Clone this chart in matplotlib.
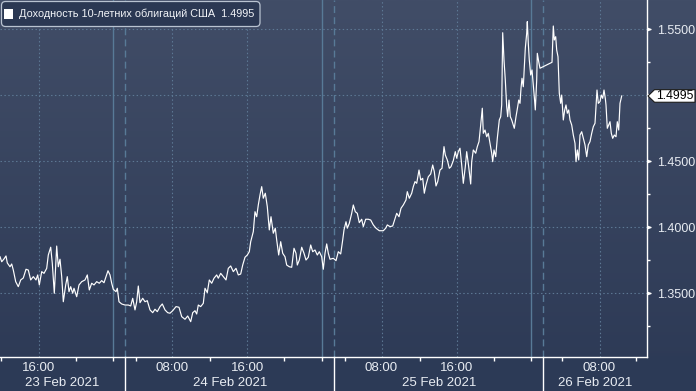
import matplotlib
matplotlib.use("Agg")
import matplotlib.pyplot as plt
import numpy as np
from matplotlib.patches import FancyBboxPatch, Polygon, Rectangle
from matplotlib.colors import LinearSegmentedColormap
from matplotlib.transforms import IdentityTransform, blended_transform_factory

plt.rcParams['font.family'] = ['Liberation Sans', 'DejaVu Sans']

# ---------------- data ----------------
series_name = "Доходность 10-летних облигаций США"
last_value = 1.4995

# chart position (session-time index) of each observation
pos = [
    0, 1.7, 4, 6, 7.3, 10, 11.7, 13.3, 15.7, 18.3, 20.7, 23.3, 26, 28.3, 30.7, 33.3, 36, 37.7, 39.3, 41.7,
    44, 46.7, 48.3, 50.7, 52.3, 54.3, 56.7, 58.3, 60, 61.7, 63.3, 65.7, 67.3, 69, 70.7, 72.7, 74, 76.7, 79, 81.7,
    85, 87.3, 89.3, 91.7, 94, 96.7, 99.3, 101.7, 104, 106, 108, 110, 111.7, 113.3, 116, 117.3, 119, 121.7, 125, 128.3,
    130.7, 132.7, 135, 136.7, 138.3, 140, 142.7, 145, 147.3, 150, 152.7, 155, 157.3, 160, 162.3, 165, 167.7, 170,
    172.7, 176, 179, 181.7, 185, 187.7, 190.7, 192.7, 195, 196.7, 198.3, 200.7, 203.3, 205, 207.3, 209.3, 211.7, 214,
    216.7, 218.3, 220.7, 223.3, 226, 228.3, 230.7, 233.3, 236, 238.3, 240.7, 242.7, 245, 247.3, 249.3, 250.7, 253.3,
    255, 256.7, 258.3, 260, 261.7, 263.3, 265.3, 267.3, 269.3, 271, 273.3, 275.3, 276.7, 278.7, 280.7, 282.7, 285,
    286.7, 289.3, 291.7, 294, 296, 297.3, 299.3, 301.7, 304, 306, 308.3, 310.7, 312.7, 315, 317.3, 319.3, 321.7,
    323.3, 325, 326.7, 328.3,
    330, 333.3, 336, 338.3, 340.7, 342.7, 344, 346, 347.3, 349.3, 351.7, 353.3, 355.3, 357.3, 359.3, 361.7, 363.3,
    365.7, 368.3, 370.7, 373.3, 376, 379.3, 383.3, 385.7, 387.3, 390, 392.7, 394, 396.7, 399, 401, 403.3, 406, 407.3,
    409.3, 411.7, 413.3, 415, 416.7, 419, 420.7, 422.7, 424.3, 426, 428.3, 430.7, 432.7, 434.3, 436, 437.7, 440, 442,
    444, 445.3, 447.3, 449.3, 451, 453.3, 455.3, 456.7, 458.3, 460, 461.7, 463.3, 465.3, 466.7, 468.7, 470.7,
    471.7, 473.3, 475.7, 477.3, 479, 480.7, 482.3, 483.3, 485, 486.7, 488.3, 490, 491.7, 492.7, 494, 495.7, 497.3,
    499.3, 500.7, 501.7, 502.7, 504, 505.3, 506.7, 507.7, 509, 510.3, 511.7, 513.3, 514.3, 516, 517.7, 518.7, 520,
    521, 522, 523.3, 524.3, 525.3, 526.7, 527.3, 528.3, 529.3, 530.7, 532, 533.3, 534.3, 535.3, 536.7, 537.3, 538.7,
    540, 552, 553.3, 554.3, 555.7, 556.7, 558, 559.3, 560.7, 561.7, 563.3, 564.7, 566, 567.3, 568.7, 570, 571.7,
    573.3, 575, 576, 577.3, 578.7, 580, 581.7, 583.3, 585, 586.7, 588.3, 590, 591.7, 593.3, 595, 596, 597, 598.3,
    600, 601.3, 602.7, 604, 605.3, 606, 607.3, 608.7, 610, 611.3, 612.7, 614.3, 616, 617.3, 618.7, 620, 621.7,
]

yields = [
    1.3777, 1.3739, 1.3760, 1.3783, 1.3730, 1.3701, 1.3722, 1.3676, 1.3588, 1.3550, 1.3601, 1.3616, 1.3682, 1.3676,
    1.3601, 1.3626, 1.3601, 1.3639, 1.3563, 1.3664, 1.3651, 1.3689, 1.3790, 1.3849, 1.3727, 1.3500, 1.3858, 1.3701,
    1.3758, 1.3626, 1.3436, 1.3563, 1.3626, 1.3512, 1.3550, 1.3500, 1.3538, 1.3474, 1.3563, 1.3588, 1.3601, 1.3639,
    1.3525, 1.3576, 1.3563, 1.3588, 1.3576, 1.3596, 1.3580, 1.3626, 1.3671, 1.3639, 1.3576, 1.3530, 1.3512, 1.3538,
    1.3436, 1.3419, 1.3411, 1.3411, 1.3404, 1.3462, 1.3374, 1.3436, 1.3555, 1.3429, 1.3462, 1.3436, 1.3444, 1.3374,
    1.3353, 1.3379, 1.3361, 1.3399, 1.3419, 1.3374, 1.3353, 1.3349,
    1.3368, 1.3399, 1.3394, 1.3323, 1.3303, 1.3328, 1.3285, 1.3353, 1.3368, 1.3343, 1.3411, 1.3399, 1.3424, 1.3538,
    1.3505, 1.3601, 1.3576, 1.3614, 1.3639, 1.3614, 1.3651, 1.3626, 1.3601, 1.3689, 1.3707, 1.3664, 1.3689, 1.3639,
    1.3646, 1.3714, 1.3773, 1.3790, 1.3815, 1.3891, 1.3967, 1.4118, 1.4080, 1.4169, 1.4245, 1.4308, 1.4220, 1.4258,
    1.4156, 1.3980, 1.4080, 1.3955, 1.3993, 1.3904, 1.3790, 1.3891, 1.3803, 1.3777, 1.3714, 1.3701, 1.3697, 1.3841,
    1.3803, 1.3714, 1.3752, 1.3849, 1.3803, 1.3752, 1.3773, 1.3866, 1.3815, 1.3828, 1.3790, 1.3815, 1.3777, 1.3682,
    1.3803, 1.3874, 1.3803,
    1.3758, 1.3765, 1.3747, 1.3815, 1.3798, 1.3904, 1.3980, 1.4042, 1.3993, 1.4030, 1.4106, 1.4169, 1.4118, 1.4106,
    1.4035, 1.4061, 1.4005, 1.4061, 1.4061, 1.4055, 1.4018, 1.3993, 1.3974, 1.3974, 1.3993, 1.4018, 1.4005, 1.4010,
    1.4042, 1.4106, 1.4080, 1.4144, 1.4169, 1.4207, 1.4270, 1.4220, 1.4258, 1.4308, 1.4346, 1.4333, 1.4434, 1.4358,
    1.4371, 1.4258, 1.4321, 1.4383, 1.4404, 1.4472, 1.4421, 1.4313, 1.4346, 1.4434, 1.4447, 1.4611, 1.4548, 1.4510,
    1.4447, 1.4459, 1.4505, 1.4573, 1.4523, 1.4573, 1.4599, 1.4472, 1.4333, 1.4459, 1.4573, 1.4459, 1.4328,
    1.4497, 1.4586, 1.4561, 1.4611, 1.4649, 1.4775, 1.4902, 1.4712, 1.4737, 1.4686, 1.4712, 1.4636, 1.4561, 1.4497,
    1.4586, 1.4535, 1.4674, 1.4813, 1.4838, 1.4927, 1.5474, 1.5267, 1.5116, 1.4914, 1.4838, 1.4964, 1.4838, 1.4813,
    1.4775, 1.4750, 1.4838, 1.4914, 1.4964, 1.4939, 1.5053, 1.5129, 1.5065, 1.5217, 1.5356, 1.5470, 1.5558, 1.5394,
    1.5267, 1.5154, 1.5192, 1.5078, 1.4989, 1.4889, 1.5116, 1.5318, 1.5255, 1.5205, 1.5250, 1.5525, 1.5419, 1.5444,
    1.5343, 1.5292, 1.5015, 1.4939, 1.5002, 1.4813, 1.4889, 1.4927, 1.4864, 1.4889, 1.4813, 1.4775, 1.4699, 1.4636,
    1.4497, 1.4586, 1.4510, 1.4699, 1.4724, 1.4674, 1.4624, 1.4535, 1.4624, 1.4649, 1.4712, 1.4762, 1.4788, 1.4914,
    1.5040, 1.4939, 1.4952, 1.5002, 1.4977, 1.5040, 1.4977, 1.4927, 1.4750, 1.4775, 1.4800, 1.4712, 1.4674, 1.4699,
    1.4686, 1.4800, 1.4737, 1.4939, 1.4995,
]

time_labels = ["16:00", "08:00", "16:00", "08:00", "16:00", "08:00"]
time_pos = [38.5, 172.3, 247.3, 381.5, 456.5, 599.5]
date_labels = ["23 Feb 2021", "24 Feb 2021", "25 Feb 2021", "26 Feb 2021"]
day_start = [125.3, 334.3, 543.3]          # dashed day boundaries
session_mark = [112.5, 321.5, 530.5]       # solid session lines
minor_xticks = [1, 76, 112.5, 136, 210, 284.3, 321.5, 345, 419.7, 493.7, 530.5, 562.3, 636.3]
y_major = [1.35, 1.40, 1.45, 1.50, 1.55]
y_minor = [1.325, 1.375, 1.425, 1.475, 1.525]
X_MAX = 646.5
Y_MIN, Y_MAX = 1.3015, 1.5722

# ---------------- figure ----------------
W, H, DPI = 696, 391, 100
fig = plt.figure(figsize=(W / DPI, H / DPI), dpi=DPI)

bg = fig.add_axes([0, 0, 1, 1], zorder=-10)
grad = np.linspace(0, 1, 256).reshape(-1, 1)
cmap = LinearSegmentedColormap.from_list('bg', ['#414d67', '#2c3955'])
bg.imshow(grad, aspect='auto', cmap=cmap, extent=[0, 1, 0, 1], origin='upper')
bg.add_patch(Rectangle((0, 0), 1, 33.7 / H, color='#2c3a56', zorder=2))
bg.set_xlim(0, 1); bg.set_ylim(0, 1)
bg.axis('off')

ax = fig.add_axes([0, 33.7 / H, X_MAX / W, 357.3 / H])
ax.patch.set_alpha(0)
ax.set_xlim(0, X_MAX)
ax.set_ylim(Y_MIN, Y_MAX)

for s in ['top', 'left']:
    ax.spines[s].set_visible(False)
for s in ['right', 'bottom']:
    ax.spines[s].set_color('white')
    ax.spines[s].set_linewidth(1.0)

grid_c = '#5d7894'
for yv in y_major:
    ax.axhline(yv, color=grid_c, lw=0.8, dashes=(1.3, 2.2), zorder=1)
for xv in time_pos:
    ax.axvline(xv, color=grid_c, lw=0.8, dashes=(1.3, 2.2), zorder=1)
for xv in session_mark:
    ax.axvline(xv, color='#587a97', lw=1.0, zorder=1)
for xv in day_start:
    ax.axvline(xv, color='#587a97', lw=1.0, dashes=(5, 3), zorder=1)

ax.plot(pos, yields, color='white', lw=0.85, zorder=5, solid_joinstyle='round')

# y axis on the right
ax.yaxis.tick_right()
ax.set_yticks(y_major)
ax.set_yticklabels(['%.4f' % v if abs(v - 1.50) > 1e-9 else '' for v in y_major])
ax.set_yticks(y_minor, minor=True)
ax.tick_params(axis='y', which='major', length=0, pad=7.5, labelsize=9, labelcolor='#e8ecf2')
ax.tick_params(axis='y', which='minor', length=2.5, width=1, color='white', direction='out')
tr_y = blended_transform_factory(ax.transAxes, ax.transData)
ax.plot([1.0] * len(y_major), y_major, linestyle='none', marker=[(0, -0.45), (1.3, 0), (0, 0.45)],
        ms=5, color='white', transform=tr_y, clip_on=False, zorder=6)

# x axis
ax.set_xticks(minor_xticks)
ax.set_xticklabels([])
ax.tick_params(axis='x', which='major', length=2.6, width=1, color='white', direction='out')
tr_x = blended_transform_factory(ax.transData, ax.transAxes)
for xv, lab in zip(time_pos, time_labels):
    ax.text(xv, -0.030, lab, transform=tr_x, ha='center', va='center', fontsize=9.5,
            color='#e8ecf2', clip_on=False)
bounds = [0] + day_start + [X_MAX]
for i, lab in enumerate(date_labels):
    ax.text((bounds[i] + bounds[i + 1]) / 2, -0.073, lab, transform=tr_x, ha='center', va='center',
            fontsize=9.5, color='#e8ecf2', clip_on=False)
for xv in day_start:
    ax.plot([xv, xv], [0, -0.1], transform=tr_x, color='white', lw=1.0, clip_on=False)

# legend box
idt = IdentityTransform()
fig.add_artist(FancyBboxPatch((1.5, H - 26.5), 258.5, 25, boxstyle='round,pad=0,rounding_size=4',
                              fc='#2b3853', ec='#b9c3d1', lw=0.9, transform=idt))
fig.add_artist(Rectangle((4, H - 18.5), 9.3, 9.3, fc='white', ec='none', transform=idt))
fig.text(19 / W, 1 - 14 / H, f"{series_name}  {last_value:.4f}", fontsize=7.8, color='#f2f4f8',
         ha='left', va='center')

# last value tag
fig.canvas.draw()
y0 = ax.transData.transform((0, last_value))[1]
x0 = ax.transAxes.transform((1, 0))[0]
hh = 6.3
fig.add_artist(Polygon([(x0 + 1.5, y0), (x0 + 8, y0 + hh), (W - 1, y0 + hh), (W - 1, y0 - hh), (x0 + 8, y0 - hh)],
                       closed=True, fc='white', ec='#1a1a1a', lw=0.8, transform=idt, zorder=10))
fig.text((x0 + 8 + W - 1) / 2 / W, y0 / H, f"{last_value:.4f}", fontsize=8.8, color='black',
         ha='center', va='center', zorder=11)

fig.savefig('out.png', dpi=DPI)
